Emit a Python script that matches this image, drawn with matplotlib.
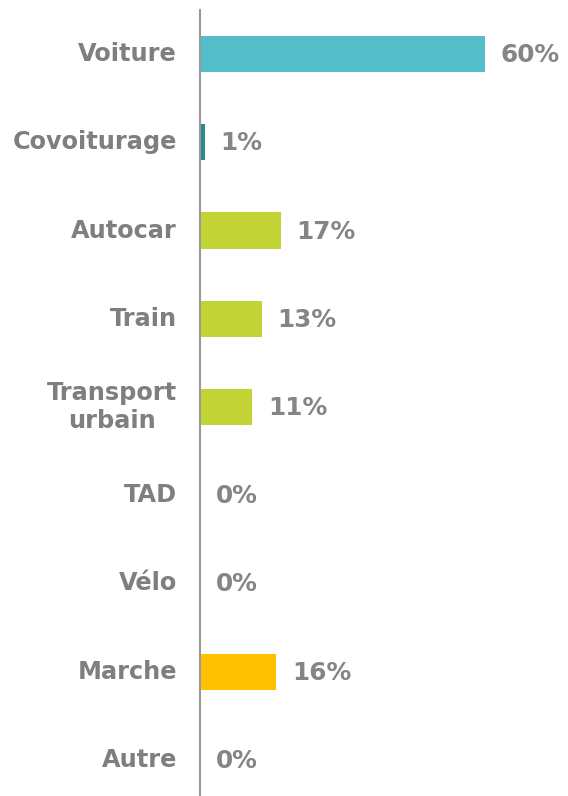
import matplotlib
matplotlib.use("Agg")
import matplotlib.pyplot as plt

categories = ["Voiture", "Covoiturage", "Autocar", "Train", "Transport\nurbain",
              "TAD", "Vélo", "Marche", "Autre"]
values = [60, 1, 17, 13, 11, 0, 0, 16, 0]
colors = ["#53bec8", "#2b8a8c", "#c2d435", "#c2d435", "#c2d435",
          "#c2d435", "#c2d435", "#ffc000", "#808080"]

W, H = 568, 796
fig = plt.figure(figsize=(W / 100, H / 100), dpi=100)
ax = fig.add_axes([200 / W, 0, 1 - 200 / W, 786 / H])

ypos = list(range(len(categories)))
ax.barh(ypos, values, height=0.41, color=colors)
ax.set_xlim(0, 77.5)
ax.set_ylim(8.41, -0.5)

grey = "#858585"
fs = 17.3
for y, v in zip(ypos, values):
    ax.annotate(f"{v}%", xy=(v, y), xytext=(16, -1), textcoords="offset pixels",
                ha="left", va="center", fontsize=fs + 0.5, fontweight="bold", color=grey)

for y, cat in zip(ypos, categories):
    ax.annotate(cat, xy=(0, y), xycoords=("axes fraction", "data"),
                xytext=(-23, 0), textcoords="offset pixels",
                ha="right", va="center", multialignment="center",
                fontsize=fs, fontweight="bold", color="#7f7f7f",
                annotation_clip=False)

ax.set_yticks([])
ax.set_xticks([])
for s in ["top", "right", "bottom"]:
    ax.spines[s].set_visible(False)
ax.spines["left"].set_color("#999999")
ax.spines["left"].set_linewidth(1.5)

fig.savefig("out.png", dpi=100)
